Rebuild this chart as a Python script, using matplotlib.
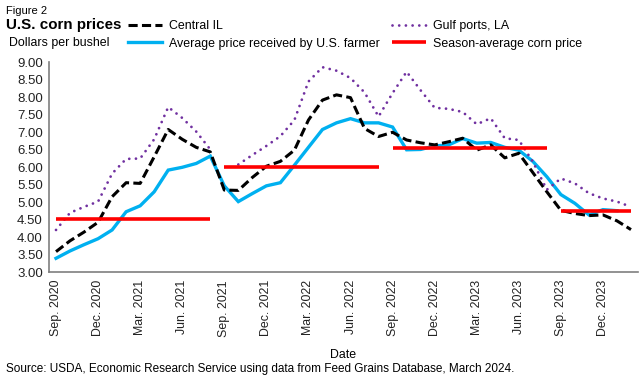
import numpy as np
import matplotlib
matplotlib.use("Agg")
import matplotlib.pyplot as plt

plt.rcParams['font.family'] = ['Liberation Sans', 'DejaVu Sans']

# monthly, Sep. 2020 .. Feb. 2024
months = ['Sep. 2020', 'Oct. 2020', 'Nov. 2020', 'Dec. 2020', 'Jan. 2021', 'Feb. 2021',
          'Mar. 2021', 'Apr. 2021', 'May 2021', 'Jun. 2021', 'Jul. 2021', 'Aug. 2021',
          'Sep. 2021', 'Oct. 2021', 'Nov. 2021', 'Dec. 2021', 'Jan. 2022', 'Feb. 2022',
          'Mar. 2022', 'Apr. 2022', 'May 2022', 'Jun. 2022', 'Jul. 2022', 'Aug. 2022',
          'Sep. 2022', 'Oct. 2022', 'Nov. 2022', 'Dec. 2022', 'Jan. 2023', 'Feb. 2023',
          'Mar. 2023', 'Apr. 2023', 'May 2023', 'Jun. 2023', 'Jul. 2023', 'Aug. 2023',
          'Sep. 2023', 'Oct. 2023', 'Nov. 2023', 'Dec. 2023', 'Jan. 2024', 'Feb. 2024']

central_il = [3.59, 3.90, 4.15, 4.43, 5.16, 5.56, 5.54, 6.30, 7.08, 6.80, 6.57, 6.44,
              5.35, 5.34, 5.71, 6.03, 6.17, 6.49, 7.35, 7.92, 8.07, 7.99, 7.11, 6.88,
              7.00, 6.78, 6.70, 6.64, 6.73, 6.83, 6.49, 6.64, 6.27, 6.40, 5.85, 5.30,
              4.77, 4.68, 4.62, 4.64, 4.47, 4.22]

gulf_ports = [4.21, 4.70, 4.87, 5.02, 5.82, 6.24, 6.25, 6.80, 7.72, 7.41, 7.02, 6.51,
              np.nan, 6.08, 6.35, 6.61, 6.89, 7.35, 8.45, 8.86, 8.76, 8.55, 8.14, 7.45,
              8.12, 8.73, 8.20, 7.70, 7.67, 7.58, 7.23, 7.40, 6.83, 6.78, 6.16, 5.36,
              5.68, 5.54, 5.26, 5.11, 5.02, 4.87]

avg_received = [3.40, 3.61, 3.79, 3.96, 4.21, 4.73, 4.90, 5.30, 5.92, 6.00, 6.11, 6.32,
                5.47, 5.02, 5.25, 5.47, 5.56, 6.06, 6.57, 7.08, 7.27, 7.39, 7.27, 7.27,
                7.15, 6.50, 6.51, 6.61, 6.64, 6.82, 6.69, 6.71, 6.57, 6.49, 6.17, 5.73,
                5.22, 4.97, 4.64, 4.79, 4.76, np.nan]

# season-average price per marketing year (first and last month of each)
season_avg = [4.53, 6.00, 6.54, 4.75]
season_first = ['Sep. 2020', 'Sep. 2021', 'Sep. 2022', 'Sep. 2023']
season_last = ['Aug. 2021', 'Aug. 2022', 'Aug. 2023', 'Feb. 2024']

tick_labels = months[::3]

x = np.arange(len(months))
fs = 8.9

fig = plt.figure(figsize=(6.43, 3.91), dpi=100)
ax = fig.add_axes([49/643, 1 - 272.3/391, 589/643, 210/391])

ax.plot(x, avg_received, color='#00B0F0', lw=2.4, solid_joinstyle='miter',
        label='Average price received by U.S. farmer', zorder=2)
ax.plot(x, central_il, color='black', lw=2.2, dashes=(3.0, 1.4),
        label='Central IL', zorder=3)
ax.plot(x, gulf_ports, color='#7030A0', lw=2.0, dashes=(0.01, 2.4),
        dash_capstyle='round', label='Gulf ports, LA', zorder=3)
for i, v in enumerate(season_avg):
    a = months.index(season_first[i])
    b = months.index(season_last[i])
    ax.plot([x[a], x[b]], [v, v], color='#FF0000', lw=2.6, solid_capstyle='butt',
            label='Season-average corn price' if i == 0 else None, zorder=4)

ax.set_xlim(-0.5, len(months) - 0.5)
ax.set_ylim(3, 9)
ax.set_yticks(np.arange(3, 9.01, 0.5))
ax.set_yticklabels(['%.2f' % v for v in np.arange(3, 9.01, 0.5)], fontsize=9.5)
ax.set_xticks(x[::3])
ax.set_xticklabels(tick_labels, rotation=90, fontsize=fs)
ax.tick_params(axis='both', length=0, colors='#222222')
ax.tick_params(axis='y', pad=4.5)
ax.tick_params(axis='x', pad=5.5)
for s in ['top', 'right']:
    ax.spines[s].set_visible(False)
for s in ['left', 'bottom']:
    ax.spines[s].set_color('#7f7f7f')
    ax.spines[s].set_linewidth(1.2)
ax.set_xlabel('Date', fontsize=fs, labelpad=9)

h, l = ax.get_legend_handles_labels()
order = [l.index('Central IL'), l.index('Average price received by U.S. farmer'),
         l.index('Gulf ports, LA'), l.index('Season-average corn price')]
fig.legend([h[k] for k in order], [l[k] for k in order], ncol=2, frameon=False,
           fontsize=fs, loc='upper left', bbox_to_anchor=(128/643, 1 - 20/391),
           handlelength=2.75, handletextpad=0.55, columnspacing=1.0,
           labelspacing=0.45, borderpad=0, borderaxespad=0)

fig.text(6/643, 1 - 11/391, 'Figure 2', fontsize=8, va='center', ha='left')
fig.text(6/643, 1 - 25/391, 'U.S. corn prices', fontsize=10.9, fontweight='bold',
         va='center', ha='left')
fig.text(9/643, 1 - 43/391, 'Dollars per bushel', fontsize=fs, va='center', ha='left')
fig.text(6/643, 1 - 369/391,
         'Source: USDA, Economic Research Service using data from Feed Grains Database, March 2024.',
         fontsize=8.5, va='center', ha='left')

fig.savefig('out.png', dpi=100)
